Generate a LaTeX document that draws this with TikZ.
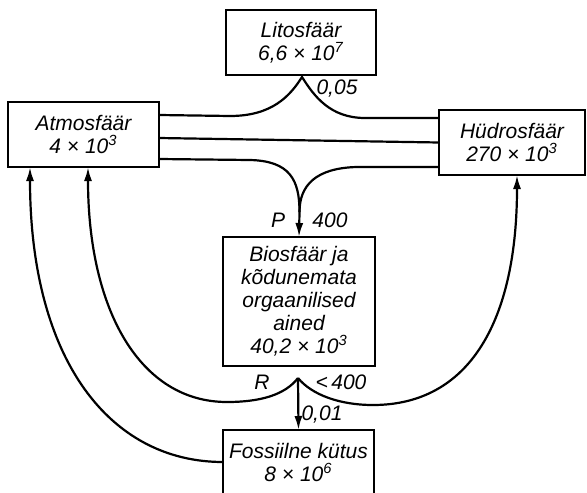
\documentclass[tikz,border=0pt]{standalone}
\usepackage{fontspec}
\setmainfont{Liberation Sans}
\usetikzlibrary{arrows.meta}

\begin{document}
\begin{tikzpicture}[x=0.5pt,y=-0.5pt]
        \tikzset{sphere/.style = {draw,line width=1.1pt,inner sep=0pt,outer sep=0pt,align=center,
                font=\fontsize{10.5}{11.5}\selectfont\itshape}}
        \tikzset{flow/.style = {line width=1.1pt}}
        \tikzset{arr/.style = {flow,-{Latex[length=7pt,width=4pt]}}}
        \tikzset{amount/.style = {font=\fontsize{10.5}{11.5}\selectfont\itshape,inner sep=0pt}}
        \useasboundingbox (0,0) rectangle (587,492);

        \node[sphere,minimum width=75pt,minimum height=32.5pt] (lito) at (301,42.5) {Litosfäär\\6,6 × 10\textsuperscript{7}};
        \node[sphere,minimum width=75.5pt,minimum height=32.5pt] (atmo) at (83.5,134.5) {Atmosfäär\\4 × 10\textsuperscript{3}};
        \node[sphere,minimum width=73pt,minimum height=32.5pt] (hydro) at (512,142.5) {Hüdrosfäär\\270 × 10\textsuperscript{3}};
        \node[sphere,minimum width=76pt,minimum height=64.5pt] (bio) at (299,301.5) {Biosfäär ja\\kõdunemata\\orgaanilised\\ained\\40,2 × 10\textsuperscript{3}};
        \node[sphere,minimum width=75.5pt,minimum height=32pt] (foss) at (298.5,462) {Fossiilne kütus\\8 × 10\textsuperscript{6}};

        \coordinate (top) at (302,77);
        \coordinate (merge) at (299.5,212);
        \coordinate (cusp) at (298,378);

        % atmosfäär -- litosfäär -- hüdrosfäär
        \draw[flow] ([yshift=9.75pt]atmo.east) -- (230,116) .. controls (272,116) and (290,96) .. (top)
                .. controls (314,96) and (330,118) .. (365,118) -- ([yshift=12.25pt]hydro.west);
        \draw[flow] ([yshift=-1.75pt]atmo.east) -- (hydro.west);
        % P
        \draw[flow] ([yshift=-12.25pt]atmo.east) -- (250,160) .. controls (290,161) and (299.5,180) .. (merge);
        \draw[flow] ([yshift=-12.25pt]hydro.west) -- (357,167) .. controls (315,168) and (299.5,186) .. (merge);
        \draw[arr] (merge) -- (bio.north);
        % R
        \draw[arr] (cusp) .. controls (285,395) and (260,402) .. (227,402)
                .. controls (140,402) and (88,310) .. ([xshift=2.25pt]atmo.south);
        \draw[arr] (cusp) .. controls (312,395) and (340,405) .. (373,405)
                .. controls (470,405) and (517,320) .. ([xshift=2.5pt]hydro.south);
        \draw[arr] (cusp) -- (foss.north);
        \draw[arr] (foss.west) .. controls (110,462) and (30,360) .. ([xshift=-26.75pt]atmo.south);

        \node[amount] (l005) at (337,89) {0,05};
        \node[amount] (lP) at (278,220) {P};
        \node[amount] (l400) at (330,220) {400};
        \node[amount] (lR) at (262,382) {R};
        \node[amount] (llt400) at (341,382) {<\,400};
        \node[amount] (l001) at (322,415) {0,01};
    \end{tikzpicture}
\end{document}
